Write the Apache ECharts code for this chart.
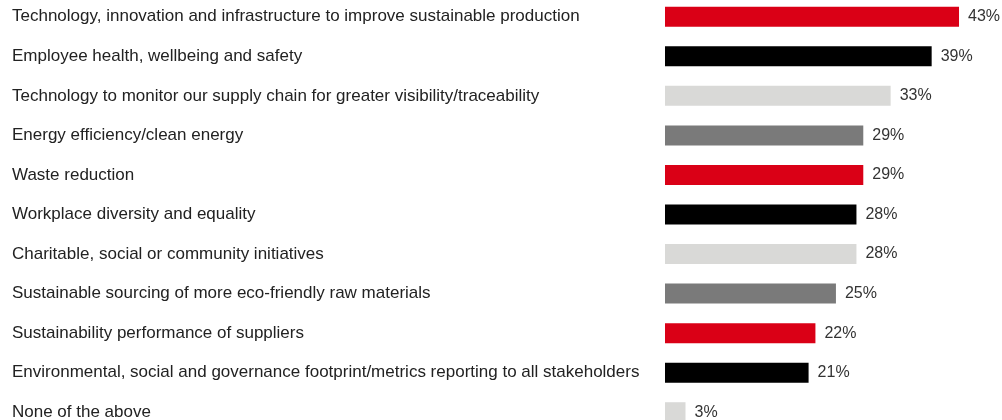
<!DOCTYPE html>
<html>
<head>
<meta charset="utf-8">
<script src="https://cdn.jsdelivr.net/npm/echarts@6/dist/echarts.min.js"></script>
<style>html,body{margin:0;padding:0;background:#fff;overflow:hidden;height:420px}#c{width:1002px;height:434.5px;margin-top:-3px}</style>
</head>
<body>
<div id="c"></div>
<script>
var categories = [
  "Technology, innovation and infrastructure to improve sustainable production",
  "Employee health, wellbeing and safety",
  "Technology to monitor our supply chain for greater visibility/traceability",
  "Energy efficiency/clean energy",
  "Waste reduction",
  "Workplace diversity and equality",
  "Charitable, social or community initiatives",
  "Sustainable sourcing of more eco-friendly raw materials",
  "Sustainability performance of suppliers",
  "Environmental, social and governance footprint/metrics reporting to all stakeholders",
  "None of the above"
];
var values = [43, 39, 33, 29, 29, 28, 28, 25, 22, 21, 3];
var palette = ["#da0016", "#000000", "#d9d9d7", "#7a7a7a"];

var chart = echarts.init(document.getElementById('c'), null, {renderer: 'canvas'});
chart.setOption({
  animation: false,
  grid: {left: 665, top: 0, width: 328.2, bottom: 0, containLabel: false},
  xAxis: {type: 'value', min: 0, max: 48, show: false},
  yAxis: {
    type: 'category', data: categories, inverse: true,
    axisLine: {show: false}, axisTick: {show: false}, splitLine: {show: false},
    axisLabel: {align: 'left', margin: 653, color: '#222', fontSize: 17,
      fontFamily: 'Liberation Sans, Arial, sans-serif', verticalAlign: 'middle'}
  },
  series: [{
    type: 'bar', barWidth: 20,
    data: values.map(function (v, i) { return {value: v, itemStyle: {color: palette[i % 4]}}; }),
    label: {show: true, position: 'right', distance: 9, formatter: '{c}%', color: '#333',
      fontSize: 16, fontFamily: 'Liberation Sans, Arial, sans-serif'}
  }]
});
</script>
</body>
</html>
